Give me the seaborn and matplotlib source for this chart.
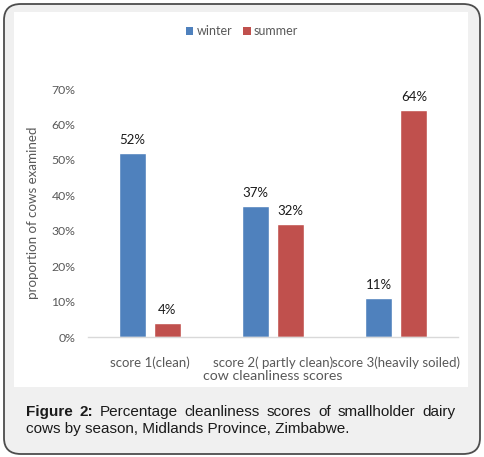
import matplotlib
matplotlib.use("Agg")
import matplotlib.pyplot as plt
import seaborn as sns
import pandas as pd
from matplotlib.patches import FancyBboxPatch, Rectangle, Patch
from matplotlib.ticker import FuncFormatter

categories = ["score 1(clean)", "score 2( partly clean)", "score 3(heavily soiled)"]
seasons = ["winter", "summer"]
winter = [52, 37, 11]
summer = [4, 32, 64]
colors = ["#4f81bd", "#c0504d"]

df = pd.DataFrame({
    "score": categories * 2,
    "season": ["winter"] * 3 + ["summer"] * 3,
    "value": winter + summer,
})

sns.set_theme(style="white")
plt.rcParams["font.family"] = ["Lato", "DejaVu Sans"]

W, H = 484, 457
fig = plt.figure(figsize=(W / 100, H / 100), dpi=100)
fig.patch.set_facecolor("white")

def fx(px):
    return px / W

def fy(py):
    return 1 - py / H

outer = FancyBboxPatch((fx(4), fy(454)), fx(476), 450 / H,
                       boxstyle="round,pad=0,rounding_size=0.035",
                       transform=fig.transFigure, facecolor="#f0f0f0",
                       edgecolor="#4d4d4d", linewidth=1.3, zorder=0)
fig.patches.append(outer)
panel = Rectangle((fx(14), fy(387)), fx(454), 375 / H, transform=fig.transFigure,
                  facecolor="white", edgecolor="none", zorder=0.5)
fig.patches.append(panel)

ax = fig.add_axes([fx(88), fy(337), fx(370), 248 / H])
ax.set_zorder(2)
ax.set_facecolor("none")
sns.barplot(data=df, x="score", y="value", hue="season", hue_order=seasons,
            order=categories, palette=colors, width=0.57, gap=0.228,
            saturation=1, ax=ax, legend=False)

for cont in ax.containers:
    ax.bar_label(cont, labels=[f"{v:.0f}%" for v in cont.datavalues],
                 padding=5, fontsize=9.5, color="#1a1a1a")

ax.set_ylim(0, 70)
ax.set_xlim(-0.5, 2.5)
ax.set_yticks(range(0, 71, 10))
ax.yaxis.set_major_formatter(FuncFormatter(lambda v, p: f"{v:.0f}%"))
for s in ["top", "right", "left"]:
    ax.spines[s].set_visible(False)
ax.spines["bottom"].set_color("#d9d9d9")
ax.spines["bottom"].set_linewidth(1)
ax.tick_params(axis="y", length=0, pad=9, labelsize=8.8, labelcolor="#595959")
ax.tick_params(axis="x", length=0, pad=14, labelsize=9.5, labelcolor="#595959")
ax.set_xlabel("cow cleanliness scores", fontsize=10.2, color="#595959", labelpad=1)
ax.set_ylabel("proportion of cows examined", fontsize=9.6, color="#595959", labelpad=9)

handles = [Patch(facecolor=c, edgecolor="none") for c in colors]
leg = fig.legend(handles, seasons, loc="center", bbox_to_anchor=(0.5, fy(31)),
                 ncol=2, frameon=False, fontsize=9, labelcolor="#595959",
                 handlelength=0.6, handleheight=0.6, handletextpad=0.25,
                 columnspacing=0.9)
leg.set_zorder(3)

# caption, first line justified
cap_font = ["Liberation Sans", "DejaVu Sans"]
cap_size = 11
words1 = [("Figure", "bold"), ("2:", "bold"), ("Percentage", "normal"),
          ("cleanliness", "normal"), ("scores", "normal"), ("of", "normal"),
          ("smallholder", "normal"), ("dairy", "normal")]
line2 = "cows by season, Midlands Province, Zimbabwe."
fig.canvas.draw()
renderer = fig.canvas.get_renderer()
texts = []
for w, wt in words1:
    t = fig.text(0, fy(412), w, fontsize=cap_size, family=cap_font,
                 fontweight=wt, color="#1a1a1a", va="center", ha="left")
    texts.append(t)
widths = [t.get_window_extent(renderer).width for t in texts]
x0, x1 = 26, 455
space = (x1 - x0 - sum(widths)) / (len(widths) - 1)
x = x0
for t, wd in zip(texts, widths):
    t.set_x(fx(x))
    x += wd + space
fig.text(fx(26), fy(429), line2, fontsize=cap_size, family=cap_font,
         color="#1a1a1a", va="center", ha="left")

fig.savefig("out.png", dpi=100)
